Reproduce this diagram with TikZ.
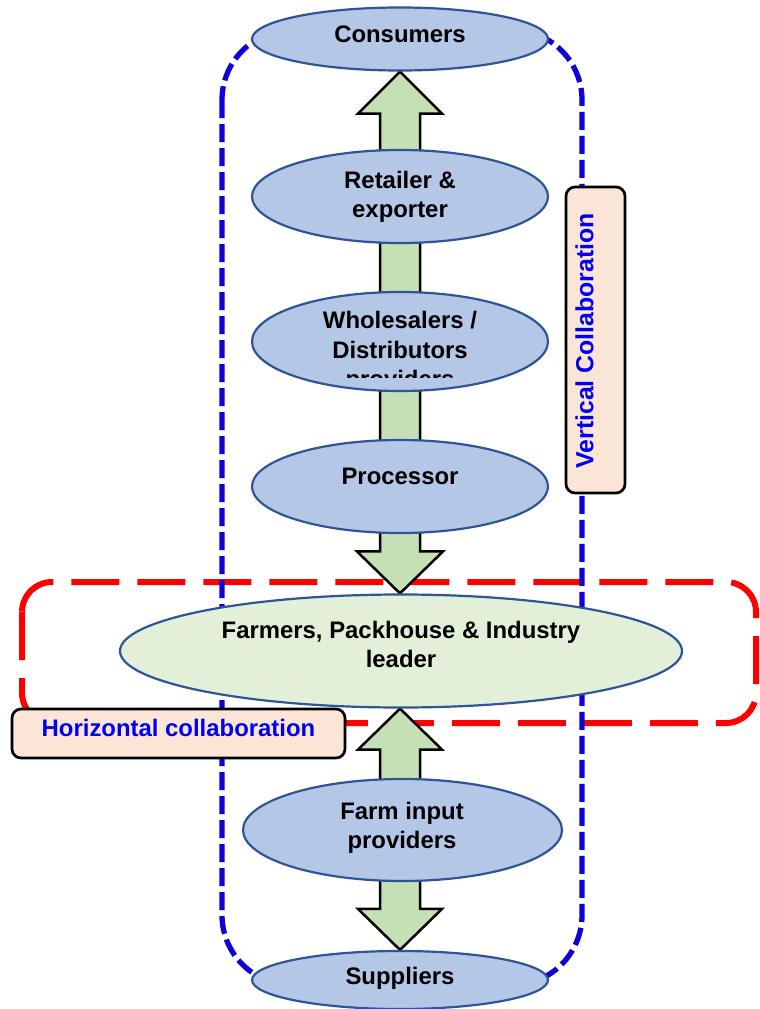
\documentclass[tikz,border=0pt]{standalone}
\usepackage{fontspec}
\setmainfont{Liberation Sans}
\usetikzlibrary{shapes.geometric,calc}
\definecolor{ellfill}{RGB}{180,199,231}
\definecolor{ellline}{RGB}{47,85,151}
\definecolor{farmfill}{RGB}{226,240,217}
\definecolor{arrfill}{RGB}{197,224,180}
\definecolor{boxfill}{RGB}{251,229,214}
\definecolor{dashblue}{RGB}{15,0,215}
\definecolor{txtblue}{RGB}{0,0,240}
\definecolor{dashred}{RGB}{255,0,0}
\pgfdeclarelayer{bg}
\pgfsetlayers{bg,main}
\begin{document}
\begin{tikzpicture}[x=1pt,y=-1pt,
  ell/.style={ellipse, draw=ellline, fill=ellfill, line width=2.2pt, inner sep=0pt},
  lbl/.style={font=\fontsize{23.9pt}{29.5pt}\selectfont\bfseries, align=center, inner sep=0pt},
  cbox/.style={rectangle, rounded corners=9pt, draw=black, fill=boxfill, line width=2.7pt, inner sep=0pt},
  arr/.style={draw=black, fill=arrfill, line width=2.5pt, line join=miter},
  bluedash/.style={draw=dashblue, line width=5.3pt, dash pattern=on 18pt off 6pt, rounded corners=70pt},
  reddash/.style={draw=dashred, line width=6pt, dash pattern=on 48pt off 18pt, rounded corners=30pt}]
\useasboundingbox (0,0) rectangle (760,1009);

% ellipses
\node[ell, minimum width=296pt, minimum height=63pt] (cons) at (400,39) {};
\node[ell, minimum width=296pt, minimum height=93pt] (ret) at (400,196.5) {};
\node[ell, minimum width=296pt, minimum height=99pt] (ws) at (400,341.5) {};
\node[ell, minimum width=296pt, minimum height=93pt] (proc) at (400,486.5) {};
\node[ell, fill=farmfill, minimum width=562pt, minimum height=113pt] (farm) at (401,651) {};
\node[ell, minimum width=319pt, minimum height=102pt] (fip) at (402.5,830) {};
\node[ell, minimum width=296pt, minimum height=58pt] (sup) at (400,980) {};

% labels
\node[lbl] (consL) at (400,34) {Consumers};
\node[lbl] (retL) at (400,197) {Retailer \&\\exporter};
\begin{scope}
  \clip (240,290) rectangle (560,377);
  \node[lbl] (wsL) at (400,352) {Wholesalers /\\Distributors\\providers};
\end{scope}
\node[lbl] (procL) at (400,476.5) {Processor};
\node[lbl] (farmL) at (401,644.5) {Farmers, Packhouse \& Industry\\leader};
\node[lbl] (fipL) at (402,828) {Farm input\\providers};
\node[lbl] (supL) at (400,978) {Suppliers};

% collaboration boxes
\node[cbox, minimum width=333pt, minimum height=49pt] (hbox) at (178.5,733.5) {};
\node[lbl, text=txtblue] (hL) at (178.5,727.5) {Horizontal collaboration};
\node[cbox, minimum width=59pt, minimum height=306pt] (vbox) at (595.5,340) {};
\node[lbl, text=txtblue, rotate=90, font=\fontsize{24.8pt}{29.5pt}\selectfont\bfseries] (vL) at (584.5,341) {Vertical Collaboration};

\begin{pgfonlayer}{bg}
  \draw[reddash] (22,582) rectangle (756,723);
  \draw[bluedash] (222,30) rectangle (582,985);
  % upper double arrow: consumers <- ... -> farmers
  \draw[arr] let \p1=(cons.south), \p2=(farm.north) in
    (\x1,\y1) -- (\x1+42pt,\y1-42pt) -- (\x1+20pt,\y1-42pt) -- (\x1+20pt,\y2+42pt)
    -- (\x1+43pt,\y2+42pt) -- (\x1,\y2) -- (\x1-43pt,\y2+42pt) -- (\x1-20pt,\y2+42pt)
    -- (\x1-20pt,\y1-42pt) -- (\x1-42pt,\y1-42pt) -- cycle;
  % lower double arrow: farmers <- ... -> suppliers
  \draw[arr] let \p1=(farm.south), \p2=(sup.north) in
    (\x2,\y1) -- (\x2+42pt,\y1-41pt) -- (\x2+20pt,\y1-41pt) -- (\x2+20pt,\y2+41pt)
    -- (\x2+42pt,\y2+41pt) -- (\x2,\y2) -- (\x2-42pt,\y2+41pt) -- (\x2-20pt,\y2+41pt)
    -- (\x2-20pt,\y1-41pt) -- (\x2-42pt,\y1-41pt) -- cycle;
\end{pgfonlayer}
\end{tikzpicture}
\end{document}
